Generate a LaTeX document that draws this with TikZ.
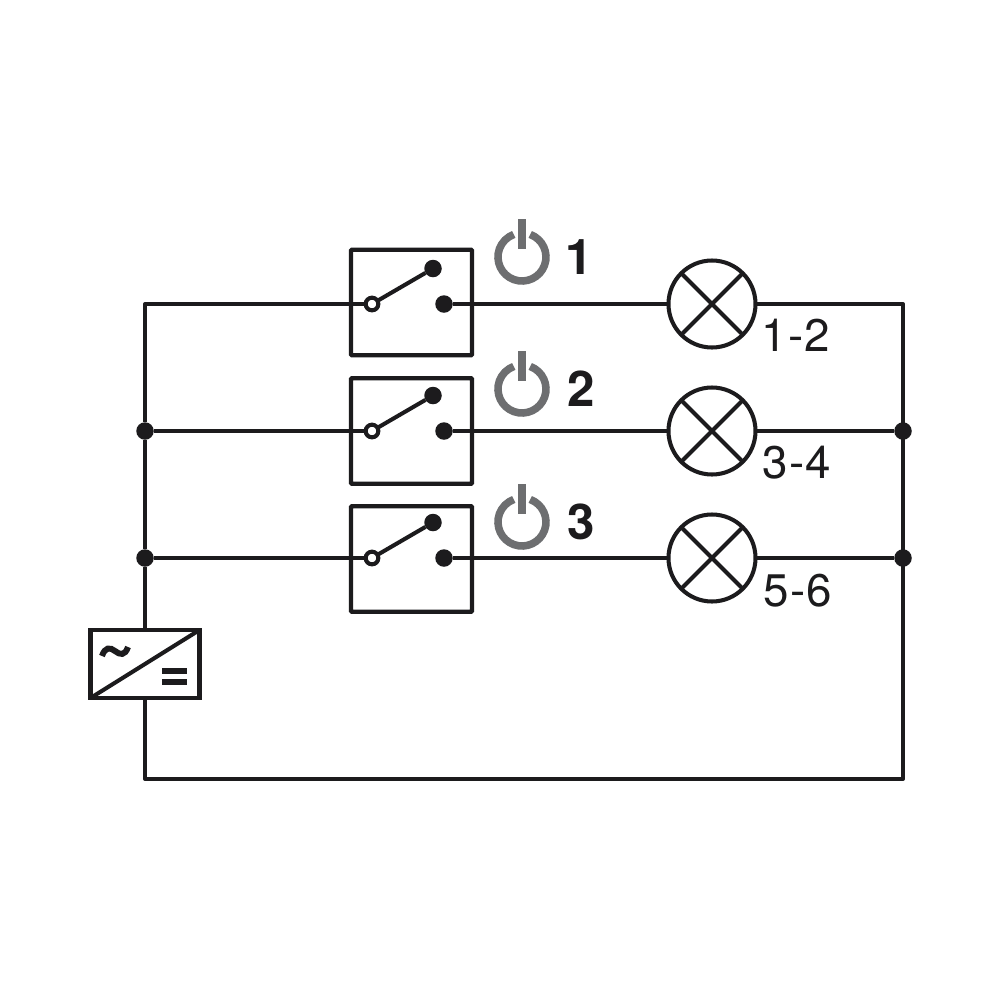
\documentclass[tikz,border=0pt]{standalone}
\usepackage{fontspec}
\setmainfont{TeX Gyre Heros}
\definecolor{ink}{HTML}{1C1B1D}
\definecolor{icongray}{HTML}{6D6E70}
\tikzset{
  wire/.style={draw=ink,line width=1.15pt,line join=round},
  switchbox/.style={draw=ink,line width=1.15pt,rectangle,rounded corners=0.2pt,minimum width=12.1mm,minimum height=10.55mm,inner sep=0,outer sep=0},
  lamp/.style={draw=ink,fill=white,line width=1.15pt,circle,minimum size=8.7mm,inner sep=0,outer sep=0},
  conv/.style={draw=ink,fill=white,line width=1.15pt,rectangle,minimum width=10.9mm,minimum height=6.8mm,inner sep=0,outer sep=0},
  dot/.style={fill=ink,circle,minimum size=1.75mm,inner sep=0,outer sep=0},
  opencontact/.style={draw=ink,fill=white,line width=1.15pt,circle,minimum size=1.27mm,inner sep=0,outer sep=0},
  lamplabel/.style={font=\fontsize{13pt}{15pt}\selectfont\addfontfeatures{LetterSpace=3},text=ink,inner sep=0},
  numlabel/.style={font=\fontsize{14pt}{16pt}\selectfont\bfseries,text=ink,inner sep=0},
  ring/.style={draw=icongray,line width=2.15pt},
  ringbar/.style={fill=icongray}
}
\begin{document}
\begin{tikzpicture}[x=0.1mm,y=-0.1mm]
\useasboundingbox (0,0) rectangle (1000,1000);
\fill[white] (0,0) rectangle (1000,1000);

% frame corners
\coordinate (tl) at (145,304);
\coordinate (bl) at (145,779);
\coordinate (br) at (903,779);
\coordinate (tr) at (903,304);

% converter
\node[conv] (pwr) at (145,664) {};

% junctions
\node[dot] (jl2) at (145,431) {};
\node[dot] (jl3) at (145,558) {};
\node[dot] (jr2) at (903,431) {};
\node[dot] (jr3) at (903,558) {};

% switches
\node[switchbox] (sw1) at (411.5,302.5) {};
\node[switchbox] (sw2) at (411.5,431) {};
\node[switchbox] (sw3) at (411.5,559) {};

% contacts
\node[opencontact] (a1) at (372,304) {};
\node[dot] (b1) at (433,268.5) {};
\node[dot] (c1) at (444,304) {};
\node[opencontact] (a2) at (372,431) {};
\node[dot] (b2) at (433,395.5) {};
\node[dot] (c2) at (444,431) {};
\node[opencontact] (a3) at (372,558) {};
\node[dot] (b3) at (433,522.5) {};
\node[dot] (c3) at (444,558) {};

% lamps
\node[lamp] (l1) at (712,304) {};
\node[lamp] (l2) at (712,431) {};
\node[lamp] (l3) at (712,558) {};

% wires
\draw[wire] (a1.west) -- (tl) -- (jl2) -- (jl3) -- (pwr.north);
\draw[wire] (pwr.south) -- (bl) -- (br) -- (tr) -- (l1.east);
\draw[wire] (jl2) -- (a2.west);
\draw[wire] (jl3) -- (a3.west);
\draw[wire] (c1) -- (l1.west);
\draw[wire] (c2) -- (l2.west);
\draw[wire] (c3) -- (l3.west);
\draw[wire] (l2.east) -- (jr2);
\draw[wire] (l3.east) -- (jr3);
\draw[wire] (a1) -- (b1);
\draw[wire] (a2) -- (b2);
\draw[wire] (a3) -- (b3);

% lamp crosses
\foreach \n in {l1,l2,l3}{
  \draw[wire] (\n.north west) -- (\n.south east);
  \draw[wire] (\n.south west) -- (\n.north east);
}

% converter symbols
\draw[wire] (pwr.south west) -- (pwr.north east);
\draw[draw=ink,line width=1.7pt] (102,656) .. controls (105,647) and (110,647) .. (115,651) .. controls (120,655) and (125,656) .. (128,647);
\fill[ink] (162,668) rectangle (187,674);
\fill[ink] (162,679) rectangle (187,685);

% power icons
\foreach \y in {257,389,522}{
  \draw[ring] (530.2,\y-22.55) arc[start angle=70,end angle=-250,radius=2.4mm];
  \fill[ringbar] (518,\y-38) rectangle (525.5,\y-8);
}

% labels
\node[numlabel] (n1) at (579,257) {1};
\node[numlabel] (n2) at (581,389) {2};
\node[numlabel] (n3) at (581,522) {3};
\node[lamplabel] (t1) at (796,335) {1-2};
\node[lamplabel] (t2) at (797,463) {3-4};
\node[lamplabel] (t3) at (798,591) {5-6};
\end{tikzpicture}
\end{document}
